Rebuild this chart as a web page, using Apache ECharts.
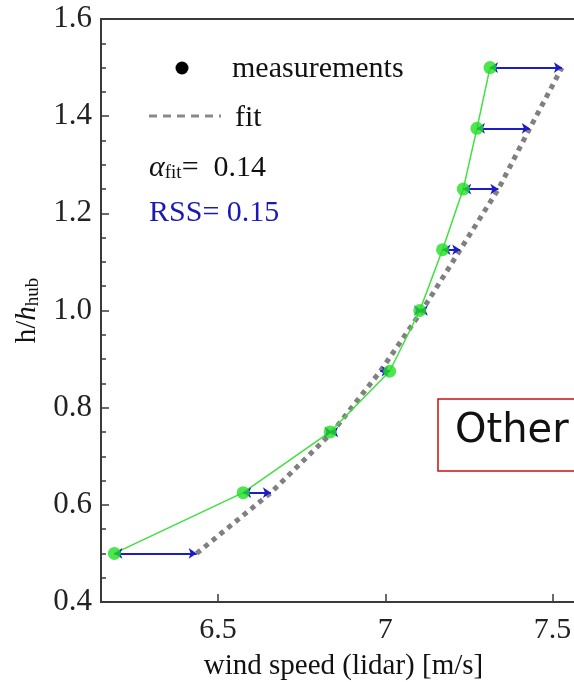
<!DOCTYPE html>
<html>
<head>
<meta charset="utf-8">
<script src="https://cdn.jsdelivr.net/npm/echarts@6/dist/echarts.min.js"></script>
<style>
html,body{margin:0;padding:0;background:#fff;}
#c{width:574px;height:682px;}
</style>
</head>
<body>
<div id="c"></div>
<script>
// Data
const heights = [0.5, 0.625, 0.75, 0.875, 1.0, 1.125, 1.25, 1.375, 1.5];
const measured = [6.19, 6.575, 6.835, 7.013, 7.103, 7.171, 7.233, 7.274, 7.313];
const fitted = [6.436, 6.658, 6.842, 6.985, 7.11, 7.224, 7.338, 7.432, 7.528];
const xTicks = [6.5, 7, 7.5];
const alphaFit = '0.14';
const rss = '0.15';

const serif = '"Liberation Serif", "Times New Roman", serif';
const chart = echarts.init(document.getElementById('c'), null, {renderer: 'canvas'});

const measData = heights.map((h, i) => [measured[i], h]);
const fitData = heights.map((h, i) => [fitted[i], h]);
const arrowData = heights.map((h, i) => ({coords: [[measured[i], h], [fitted[i], h]]}));

chart.setOption({
  animation: false,
  backgroundColor: '#fff',
  grid: {left: 101, top: 19, width: 485, height: 583, containLabel: false, outerBoundsMode: 'none',
    show: true, borderColor: '#3a3a3a', borderWidth: 2, backgroundColor: 'transparent'},
  xAxis: {
    type: 'value', min: 6.15, max: 7.6,
    name: 'wind speed (lidar) [m/s]', nameLocation: 'middle', nameGap: 50,
    nameTextStyle: {fontFamily: serif, fontSize: 29, color: '#111'},
    axisLine: {show: true, lineStyle: {color: '#3a3a3a', width: 2}},
    axisTick: {show: true, inside: true, length: 8, lineStyle: {color: '#3a3a3a', width: 1.5}, customValues: xTicks},
    axisLabel: {fontFamily: serif, fontSize: 30, color: '#222', margin: 13, customValues: xTicks, formatter: v => String(v)},
    splitLine: {show: false}
  },
  yAxis: {
    type: 'value', min: 0.4, max: 1.6, interval: 0.2,
    name: 'h/{i|h}{s|hub}', nameLocation: 'middle', nameGap: 52,
    nameTextStyle: {fontFamily: serif, fontSize: 29, color: '#111',
      rich: {
        i: {fontFamily: serif, fontSize: 29, fontStyle: 'italic', color: '#111'},
        s: {fontFamily: serif, fontSize: 19, color: '#111', verticalAlign: 'bottom', lineHeight: 12}
      }},
    axisLine: {show: true, lineStyle: {color: '#3a3a3a', width: 2}},
    axisTick: {show: true, inside: true, length: 8, lineStyle: {color: '#3a3a3a', width: 1.5}},
    minorTick: {show: true, splitNumber: 4, length: 5, lineStyle: {color: '#3a3a3a', width: 1.5}},
    axisLabel: {fontFamily: serif, fontSize: 31, color: '#222', margin: 9, formatter: v => v.toFixed(1)},
    splitLine: {show: false}
  },
  series: [
    {
      type: 'line', data: fitData, symbol: 'none', z: 1,
      lineStyle: {color: '#808080', width: 5, type: [5, 5]}
    },
    {
      type: 'line', data: measData, symbol: 'none', z: 2,
      lineStyle: {color: '#3fe03f', width: 1.5}
    },
    {
      type: 'lines', coordinateSystem: 'cartesian2d', data: arrowData, z: 3,
      symbol: ['arrow', 'arrow'], symbolSize: 8,
      lineStyle: {color: '#1c1cc8', width: 2, opacity: 1}
    },
    {
      type: 'scatter', data: measData, symbol: 'circle', symbolSize: 13, z: 4,
      itemStyle: {color: '#22e022'}
    }
  ],
  graphic: [
    {type: 'circle', shape: {cx: 182, cy: 68, r: 6.5}, style: {fill: '#000'}},
    {type: 'text', left: 232, top: 54, style: {text: 'measurements', font: '30px ' + serif, fill: '#111'}},
    {type: 'line', shape: {x1: 149, y1: 116, x2: 221, y2: 116}, style: {stroke: '#8a8a8a', lineWidth: 3, lineDash: [8, 6]}},
    {type: 'text', left: 235, top: 103, style: {text: 'fit', font: '30px ' + serif, fill: '#111'}},
    {type: 'text', left: 149, top: 153, style: {
      text: '{a|α}{s|fit}{n|=  ' + alphaFit + '}',
      rich: {
        a: {fontFamily: serif, fontSize: 30, fontStyle: 'italic', fill: '#111'},
        s: {fontFamily: serif, fontSize: 19, fill: '#111', verticalAlign: 'bottom', lineHeight: 12},
        n: {fontFamily: serif, fontSize: 30, fill: '#111'}
      }}},
    {type: 'text', left: 149, top: 198, style: {text: 'RSS= ' + rss, font: '30px ' + serif, fill: '#1a1ab4'}},
    {type: 'rect', shape: {x: 438, y: 399, width: 160, height: 72}, style: {fill: '#fff', stroke: '#cc1111', lineWidth: 1.5}, z: 100},
    {type: 'text', left: 455, top: 412, z: 101, style: {text: 'Other', font: '40px "DejaVu Sans", sans-serif', fill: '#111'}}
  ]
});
</script>
</body>
</html>
